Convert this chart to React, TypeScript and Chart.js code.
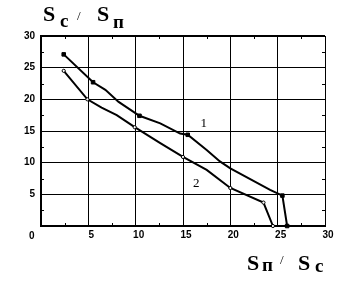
import React, { useEffect, useRef } from "react";
import { Chart, registerables } from "chart.js";
Chart.register(...registerables);

// Curve 1 (filled square markers)
const curve1X = [2.4, 5.5, 6.8, 8.2, 10.4, 12.6, 14.7, 15.5, 17.5, 18.9, 20.0, 24.2, 25.5, 26.0];
const curve1Y = [27.1, 22.7, 21.5, 19.6, 17.4, 16.2, 14.6, 14.4, 12.0, 10.2, 9.1, 5.7, 4.8, 0];
const curve1Marked = [1, 1, 0, 0, 1, 0, 0, 1, 0, 0, 0, 0, 1, 1];
// Curve 2 (hollow circle markers)
const curve2X = [2.4, 4.9, 6.4, 8.0, 9.9, 12.6, 15.0, 17.5, 20.0, 23.5, 24.5];
const curve2Y = [24.5, 20.0, 18.7, 17.5, 15.6, 13.1, 10.9, 8.85, 6.0, 3.7, 0];
const curve2Marked = [1, 1, 0, 0, 1, 0, 1, 0, 1, 1, 1];

const axisMin = 0;
const axisMax = 30;
const majorStep = 5;
const minorTicks = [2.5, 7.5, 12.5, 17.5, 22.5, 27.5];

const curveLabels = ["1", "2"];
const curveLabelX = [17.2, 16.4];
const curveLabelY = [16.1, 6.7];

const decor = {
  id: "decor",
  afterDraw(chart: any) {
    const { ctx, chartArea: a, scales } = chart;
    const x = scales.x;
    const y = scales.y;
    ctx.save();
    ctx.strokeStyle = "#000";
    ctx.lineWidth = 1;
    // minor inward ticks on all four sides
    ctx.beginPath();
    for (const v of minorTicks) {
      const px = Math.round(x.getPixelForValue(v)) + 0.5;
      ctx.moveTo(px, a.bottom);
      ctx.lineTo(px, a.bottom - 3);
      ctx.moveTo(px, a.top);
      ctx.lineTo(px, a.top + 3);
      const py = Math.round(y.getPixelForValue(v)) + 0.5;
      ctx.moveTo(a.left, py);
      ctx.lineTo(a.left + 3, py);
      ctx.moveTo(a.right, py);
      ctx.lineTo(a.right - 3, py);
    }
    ctx.stroke();
    // top border slightly heavier
    ctx.lineWidth = 2;
    ctx.beginPath();
    ctx.moveTo(a.left, a.top);
    ctx.lineTo(a.right, a.top);
    ctx.stroke();

    ctx.fillStyle = "#000";
    ctx.textBaseline = "alphabetic";
    ctx.textAlign = "left";
    // origin label
    ctx.font = 'bold 10px "Liberation Sans", Arial, sans-serif';
    ctx.fillText("0", 29, 239);

    // curve labels
    ctx.font = '13px "Liberation Serif", serif';
    ctx.textAlign = "center";
    ctx.textBaseline = "middle";
    curveLabels.forEach((t, i) => {
      ctx.fillText(t, x.getPixelForValue(curveLabelX[i]), y.getPixelForValue(curveLabelY[i]));
    });

    // axis titles
    ctx.textAlign = "left";
    ctx.textBaseline = "alphabetic";
    const big = 'bold 22px "Liberation Serif", serif';
    const sub = 'bold 19px "Liberation Serif", serif';
    const slash = '13px "Liberation Serif", serif';
    // top: Sc / Sп
    ctx.font = big; ctx.fillText("S", 43, 21);
    ctx.font = sub; ctx.fillText("c", 60, 27);
    ctx.font = slash; ctx.fillText("/", 77, 20);
    ctx.font = big; ctx.fillText("S", 97, 21);
    ctx.font = sub; ctx.fillText("п", 113, 28);
    // bottom: Sп / Sc
    ctx.font = big; ctx.fillText("S", 247, 270);
    ctx.font = sub; ctx.fillText("п", 262, 271);
    ctx.font = slash; ctx.fillText("/", 280, 264);
    ctx.font = big; ctx.fillText("S", 298, 270);
    ctx.font = sub; ctx.fillText("c", 315, 272);
    ctx.restore();
  },
};

export default function App() {
  const ref = useRef<HTMLCanvasElement>(null);
  useEffect(() => {
    if (!ref.current) return;
    const tickFont = { family: '"Liberation Sans", Arial, sans-serif', size: 10, weight: "bold" as const };
    const chart = new Chart(ref.current, {
      type: "scatter",
      data: {
        datasets: [
          {
            data: curve1X.map((v, i) => ({ x: v, y: curve1Y[i] })),
            showLine: true,
            borderColor: "#000",
            backgroundColor: "#000",
            borderWidth: 2,
            tension: 0,
            pointStyle: "rect",
            pointRadius: curve1Marked.map((m) => (m ? 2.5 : 0)),
            pointBorderWidth: 1,
            clip: false as any,
          },
          {
            data: curve2X.map((v, i) => ({ x: v, y: curve2Y[i] })),
            showLine: true,
            borderColor: "#000",
            backgroundColor: "#fff",
            borderWidth: 2,
            tension: 0,
            pointStyle: "circle",
            pointRadius: curve2Marked.map((m) => (m ? 1.6 : 0)),
            pointBorderWidth: 1,
            clip: false as any,
          },
        ],
      },
      options: {
        animation: false,
        responsive: false,
        devicePixelRatio: 1,
        layout: { padding: { left: 0, top: 36, right: 30, bottom: 0 } },
        plugins: { legend: { display: false }, tooltip: { enabled: false } },
        scales: {
          x: {
            type: "linear",
            min: axisMin,
            max: axisMax,
            afterFit: (s: any) => { s.height = 66; },
            ticks: {
              stepSize: majorStep,
              color: "#000",
              font: tickFont,
              padding: 3,
              labelOffset: 3,
              maxRotation: 0,
              callback: (v: any) => (v === 0 ? "" : String(v)),
            },
            grid: { color: "#000", lineWidth: 1, drawTicks: false },
            border: { color: "#000", width: 2 },
          },
          y: {
            type: "linear",
            min: axisMin,
            max: axisMax,
            afterFit: (s: any) => { s.width = 41; },
            ticks: {
              stepSize: majorStep,
              color: "#000",
              font: tickFont,
              padding: 6,
              callback: (v: any) => (v === 0 ? "" : String(v)),
            },
            grid: { color: "#000", lineWidth: 1, drawTicks: false },
            border: { color: "#000", width: 2 },
          },
        },
      },
      plugins: [decor],
    });
    return () => chart.destroy();
  }, []);
  return (
    <div style={{ position: "fixed", left: 0, top: 0, width: 355, height: 292, background: "#fff" }}>
      <canvas ref={ref} width={355} height={292} />
    </div>
  );
}
